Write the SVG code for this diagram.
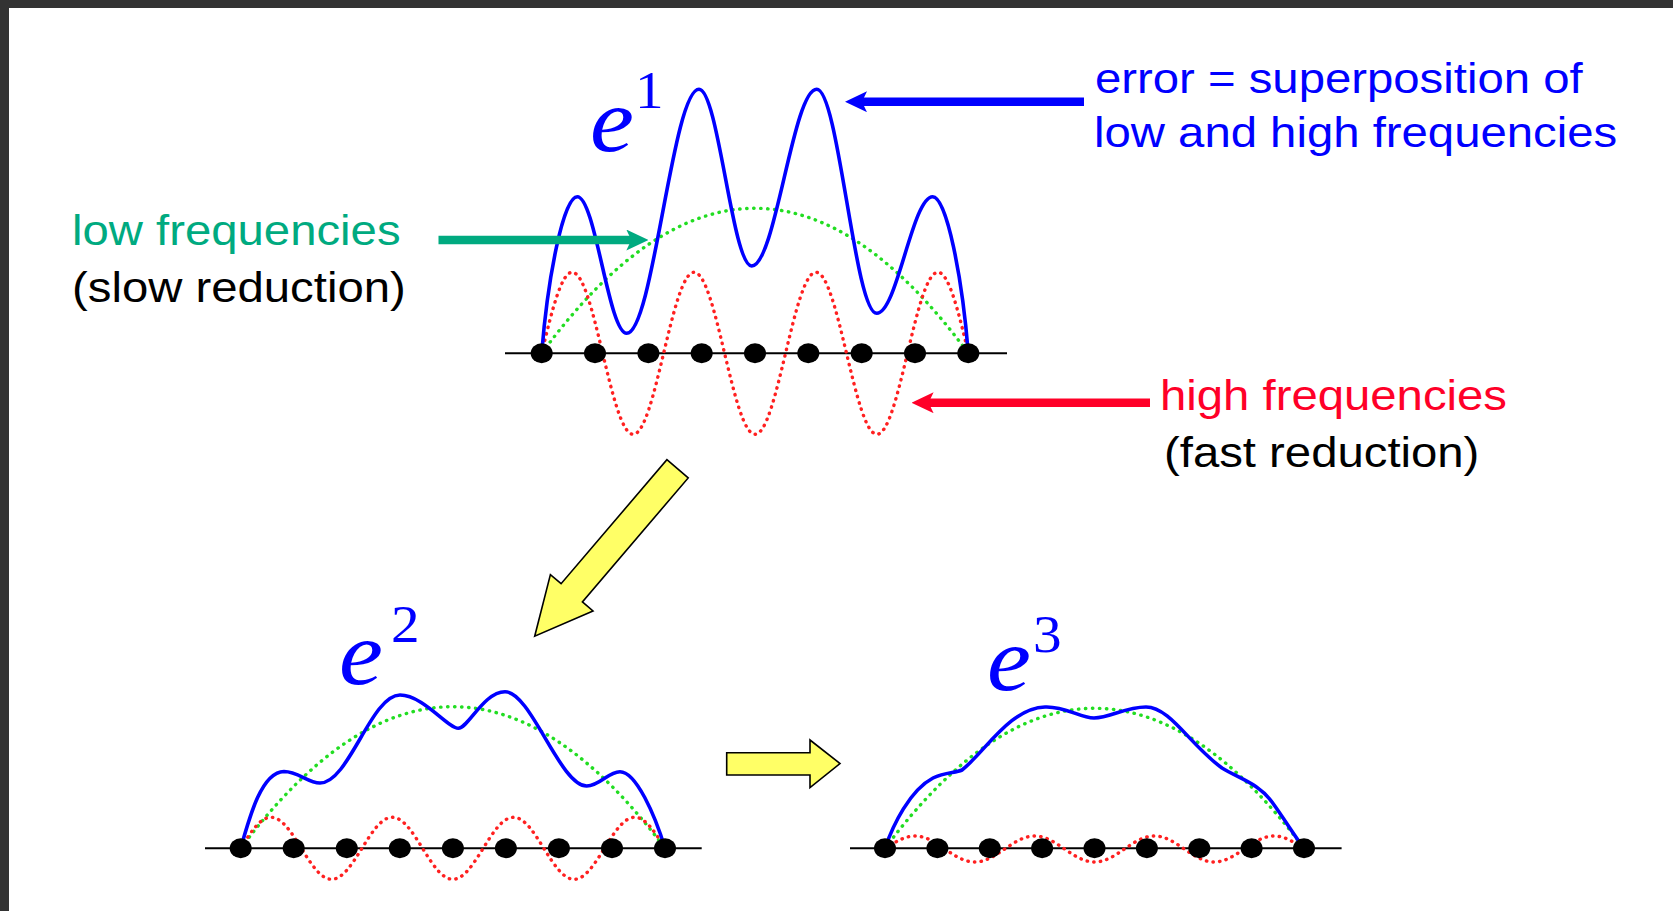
<svg xmlns="http://www.w3.org/2000/svg" width="1673" height="911" viewBox="0 0 1673 911">
<style>
.lbl{font-family:"Liberation Sans",Arial,sans-serif;font-size:43px}
.ee{font-family:"Liberation Serif","Times New Roman",serif;font-style:italic;font-size:90px;fill:#0000ff}
.sup{font-family:"Liberation Serif","Times New Roman",serif;font-size:52px;fill:#0000ff}
.axis{stroke:#000;stroke-width:2;fill:none}
.dot{fill:#000}
.blue{stroke:#0000ff;stroke-width:3.6;fill:none;stroke-linejoin:round}
.green{stroke:#22dd22;stroke-width:3.4;fill:none;stroke-dasharray:0.4 6.6;stroke-linecap:round}
.red{stroke:#ff2020;stroke-width:3.4;fill:none;stroke-dasharray:0.4 6.2;stroke-linecap:round}
.yel{fill:#ffff66;stroke:#000;stroke-width:1.6;stroke-linejoin:miter}
</style>
<defs>
<marker id="hb" viewBox="0 0 22 21" markerWidth="22" markerHeight="21" refX="10" refY="10.5" orient="auto" markerUnits="userSpaceOnUse"><path d="M0,0 L22,10.5 L0,21 L5,10.5 Z" fill="#0000ff"/></marker>
<marker id="hg" viewBox="0 0 22 21" markerWidth="22" markerHeight="21" refX="10" refY="10.5" orient="auto" markerUnits="userSpaceOnUse"><path d="M0,0 L22,10.5 L0,21 L5,10.5 Z" fill="#00aa80"/></marker>
<marker id="hr" viewBox="0 0 22 21" markerWidth="22" markerHeight="21" refX="10" refY="10.5" orient="auto" markerUnits="userSpaceOnUse"><path d="M0,0 L22,10.5 L0,21 L5,10.5 Z" fill="#ff0028"/></marker>
</defs>
<g id="frame">
<rect x="0" y="0" width="1673" height="911" fill="#333333"/>
<rect x="9" y="8" width="1664" height="903" fill="#ffffff"/>
</g>

<g id="plot-e1">
<line class="axis" x1="505" y1="353.3" x2="1007" y2="353.3"/>
<path class="green" d="M541.7,353.3 Q755,63.3 968.3,353.3"/>
<path class="red" d="M541.7,353.3 c9.94,-41.47 19.45,-81 30.48,-81 s20.54,39.53 30.48,81 s19.45,81 30.48,81 s20.54,-39.53 30.48,-81 s19.45,-81 30.48,-81 s20.54,39.53 30.48,81 s19.45,81 30.48,81 s20.54,-39.53 30.48,-81 s19.45,-81 30.48,-81 s20.54,39.53 30.48,81 s19.45,81 30.48,81 s20.54,-39.53 30.48,-81 s19.45,-81 30.48,-81 s20.54,39.53 30.48,81"/>
<path class="blue" d="M541.7,353.3 C547.7,278.3 563.3,196.7 577.3,196.7 C595.3,196.7 608.7,333.3 626.7,333.3 C653,333.3 672.7,89.3 699,89.3 C718.2,89.3 732.5,266 751.7,266 C775.4,266 793,89.3 816.7,89.3 C838.6,89.3 854.8,313.3 876.7,313.3 C897.1,313.3 912.3,196.7 932.7,196.7 C946.7,196.7 962.3,278.3 968.3,353.3"/>
<g class="dot">
<ellipse cx="541.7" cy="353.3" rx="11" ry="10"/><ellipse cx="595" cy="353.3" rx="11" ry="10"/><ellipse cx="648.4" cy="353.3" rx="11" ry="10"/><ellipse cx="701.7" cy="353.3" rx="11" ry="10"/><ellipse cx="755" cy="353.3" rx="11" ry="10"/><ellipse cx="808.3" cy="353.3" rx="11" ry="10"/><ellipse cx="861.7" cy="353.3" rx="11" ry="10"/><ellipse cx="915" cy="353.3" rx="11" ry="10"/><ellipse cx="968.3" cy="353.3" rx="11" ry="10"/>
</g>
<text class="ee" transform="translate(590,151) scale(1.1,1)">e</text>
<text class="sup" transform="translate(635,108) scale(1.1,1)">1</text>
</g>

<g id="plot-e2">
<line class="axis" x1="205" y1="848.3" x2="701.7" y2="848.3"/>
<path class="green" d="M240.7,848.3 Q452.8,565.1 665,848.3"/>
<path class="red" d="M240.7,848.3 c9.88,-15.87 19.34,-31 30.31,-31 s20.43,15.13 30.31,31 s19.34,31 30.31,31 s20.43,-15.13 30.31,-31 s19.34,-31 30.31,-31 s20.43,15.13 30.31,31 s19.34,31 30.31,31 s20.43,-15.13 30.31,-31 s19.34,-31 30.31,-31 s20.43,15.13 30.31,31 s19.34,31 30.31,31 s20.43,-15.13 30.31,-31 s19.34,-31 30.31,-31 s20.43,15.13 30.31,31"/>
<path class="blue" d="M240.7,848.3 C250,815 262,772 284,771.5 C298,771.5 308,783 320,783 C349,783 371,695 400,695 C423,695 448,728.3 458.3,728.3 C468,728.3 484,691.7 505,691.7 C531,691.7 560,786 586.7,786 C600,786 608,771.7 620,771.7 C636,771.7 655,815 665,848.3"/>
<g class="dot">
<ellipse cx="240.7" cy="848.3" rx="11" ry="10"/><ellipse cx="293.7" cy="848.3" rx="11" ry="10"/><ellipse cx="346.8" cy="848.3" rx="11" ry="10"/><ellipse cx="399.8" cy="848.3" rx="11" ry="10"/><ellipse cx="452.9" cy="848.3" rx="11" ry="10"/><ellipse cx="505.9" cy="848.3" rx="11" ry="10"/><ellipse cx="558.9" cy="848.3" rx="11" ry="10"/><ellipse cx="612" cy="848.3" rx="11" ry="10"/><ellipse cx="665" cy="848.3" rx="11" ry="10"/>
</g>
<text class="ee" transform="translate(339,684) scale(1.1,1)">e</text>
<text class="sup" transform="translate(391,641.7) scale(1.1,1)">2</text>
</g>

<g id="plot-e3">
<line class="axis" x1="850" y1="848.3" x2="1341.6" y2="848.3"/>
<path class="green" d="M885,848.3 Q1094.5,568.3 1304,848.3"/>
<path class="red" d="M885,849 c9.76,-6.66 19.1,-13 29.93,-13 s20.17,6.34 29.93,13 s19.1,13 29.93,13 s20.17,-6.34 29.93,-13 s19.1,-13 29.93,-13 s20.17,6.34 29.93,13 s19.1,13 29.93,13 s20.17,-6.34 29.93,-13 s19.1,-13 29.93,-13 s20.17,6.34 29.93,13 s19.1,13 29.93,13 s20.17,-6.34 29.93,-13 s19.1,-13 29.93,-13 s20.17,6.34 29.93,13"/>
<path class="blue" d="M885,848.3 C893,825 910,790 933,778 C945,772 955,773 962,770 C985,752 1010,708 1045,707 C1065,706 1080,718 1094,718 C1110,718 1125,707 1146,707 C1170,707 1190,745 1222,768 C1240,779 1258,783 1272,802 C1285,820 1296,838 1304,848.3"/>
<g class="dot">
<ellipse cx="885" cy="848.3" rx="11" ry="10"/><ellipse cx="937.4" cy="848.3" rx="11" ry="10"/><ellipse cx="989.8" cy="848.3" rx="11" ry="10"/><ellipse cx="1042.1" cy="848.3" rx="11" ry="10"/><ellipse cx="1094.5" cy="848.3" rx="11" ry="10"/><ellipse cx="1146.9" cy="848.3" rx="11" ry="10"/><ellipse cx="1199.3" cy="848.3" rx="11" ry="10"/><ellipse cx="1251.6" cy="848.3" rx="11" ry="10"/><ellipse cx="1304" cy="848.3" rx="11" ry="10"/>
</g>
<text class="ee" transform="translate(987,690) scale(1.1,1)">e</text>
<text class="sup" transform="translate(1033,651.7) scale(1.1,1)">3</text>
</g>

<g id="label-error">
<text class="lbl" fill="#0000ff" transform="translate(1095,93) scale(1.1,1)">error = superposition of</text>
<text class="lbl" fill="#0000ff" transform="translate(1094,146.5) scale(1.1,1)">low and high frequencies</text>
</g>
<g id="label-low">
<text class="lbl" fill="#00aa80" transform="translate(72,244.5) scale(1.1,1)">low frequencies</text>
<text class="lbl" fill="#000000" transform="translate(72,302) scale(1.1,1)">(slow reduction)</text>
</g>
<g id="label-high">
<text class="lbl" fill="#ff0028" transform="translate(1160,409.5) scale(1.1,1)">high frequencies</text>
<text class="lbl" fill="#000000" transform="translate(1164,467) scale(1.1,1)">(fast reduction)</text>
</g>

<g id="connectors">
<line x1="1084" y1="101.7" x2="857" y2="101.7" stroke="#0000ff" stroke-width="8.5" marker-end="url(#hb)"/>
<line x1="438.5" y1="240" x2="636.3" y2="240" stroke="#00aa80" stroke-width="8.5" marker-end="url(#hg)"/>
<line x1="1150" y1="402.7" x2="923.6" y2="402.7" stroke="#ff0028" stroke-width="8.5" marker-end="url(#hr)"/>
<polygon class="yel" points="666.9,459.7 688.2,477.9 582.4,601.9 593,611 534.7,636.2 550.4,574.6 561.1,583.7"/>
<polygon class="yel" points="726.7,752.7 810,752.7 810,740 840,763.5 810,787.5 810,775 726.7,775"/>
</g>
</svg>
